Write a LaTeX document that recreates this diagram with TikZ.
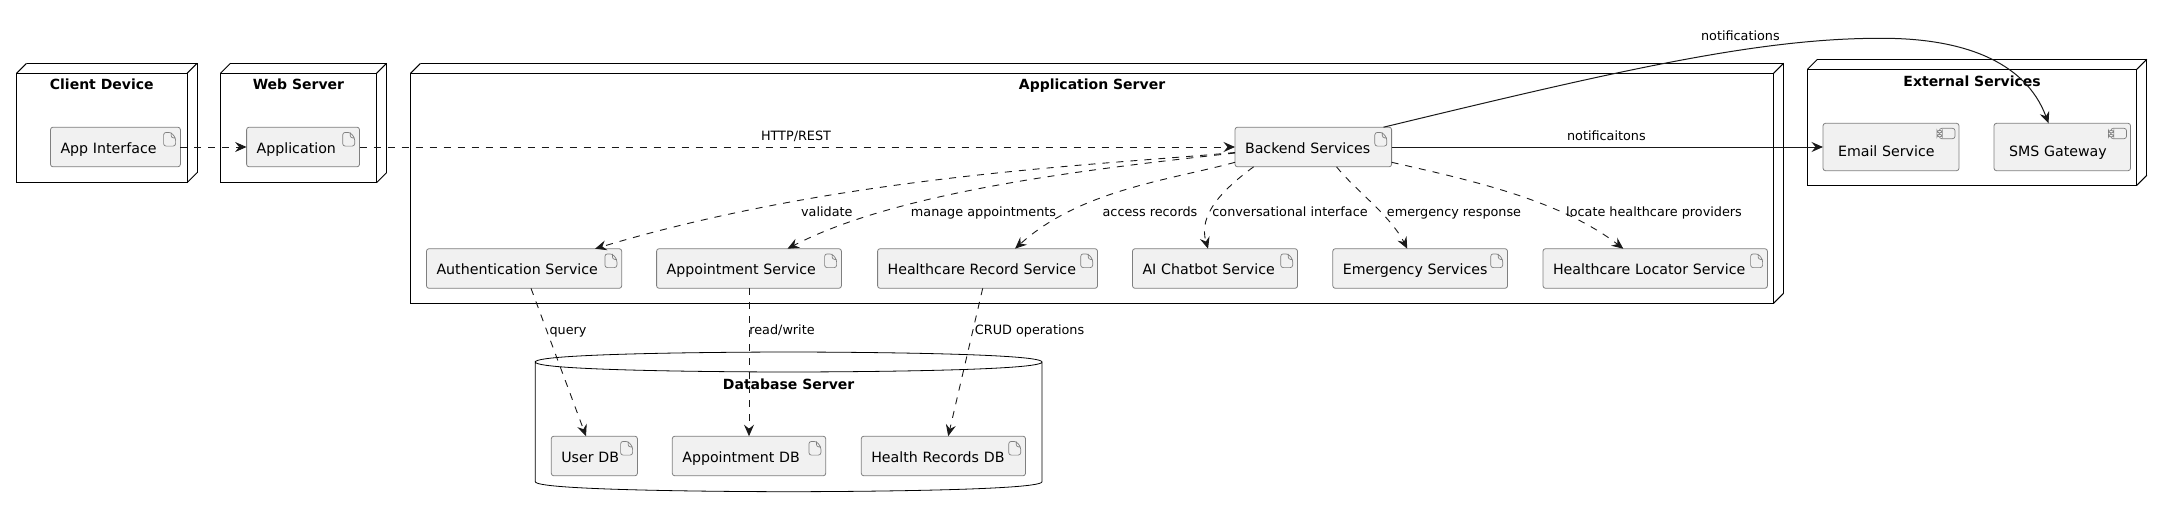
\documentclass[tikz,border=0pt]{standalone}
\usepackage{fontspec}
\setmainfont{DejaVu Sans}
\usetikzlibrary{arrows.meta}
\definecolor{boxfill}{HTML}{F1F1F1}
\definecolor{boxline}{HTML}{7F7F7F}
\tikzset{cluster/.style = {rectangle, draw, line width=1pt, inner sep=0pt, outer sep=0pt, minimum height=109.4pt,
             append after command={
               (\tikzlastnode.north west) edge[-, line width=1pt] ([shift={(10,-10)}]\tikzlastnode.north west)
               ([shift={(10,-10)}]\tikzlastnode.north west) edge[-, line width=1pt] ([shift={(10,-10)}]\tikzlastnode.north east)
               ([shift={(10,-10)}]\tikzlastnode.north east) edge[-, line width=1pt] ([shift={(10,-10)}]\tikzlastnode.south east)
               ([shift={(10,-10)}]\tikzlastnode.south east) edge[-, line width=1pt] (\tikzlastnode.south east)
               (\tikzlastnode.north east) edge[-, line width=1pt] ([shift={(10,-10)}]\tikzlastnode.north east)}},
           dbcluster/.style = {rectangle, inner sep=0pt, outer sep=0pt},
           art/.style = {rectangle, rounded corners=2.5pt, draw=boxline, fill=boxfill, line width=.8pt, inner xsep=10pt, inner ysep=0pt,
             outer sep=0pt, minimum height=39.6pt, align=left, text height=15.8pt, text depth=3pt, font=\fontsize{14.2}{16}\selectfont,
             path picture={
               \draw[boxline, line width=.7pt] ([shift={(-16.8,5.2)}]path picture bounding box.north east) -- ++(7.5,0) -- ++(4.5,5.5) -- ++(0,8.2) -- ++(-12,0) -- cycle
                 ([shift={(-9.3,5.2)}]path picture bounding box.north east) -- ++(0,5.5) -- ++(4.5,0);}},
           comp/.style = {rectangle, rounded corners=2.5pt, draw=boxline, fill=boxfill, line width=.8pt, inner xsep=15pt, inner ysep=0pt,
             outer sep=0pt, minimum height=47.4pt, align=left, text height=22.4pt, text depth=3pt, font=\fontsize{14.2}{16}\selectfont,
             path picture={
               \draw[boxline, line width=.7pt] ([shift={(-19.7,5)}]path picture bounding box.north east) rectangle ++(15.7,10.4);
               \draw[boxline, fill=boxfill, line width=.7pt] ([shift={(-22,7)}]path picture bounding box.north east) rectangle ++(5.3,2.6)
                 ([shift={(-22,11)}]path picture bounding box.north east) rectangle ++(5.3,2.6);}},
           lab/.style = {anchor=base, inner sep=0pt, font=\fontsize{12.8}{15}\selectfont},
           ttl/.style = {anchor=base, inner sep=0pt, font=\fontsize{14}{16}\selectfont\bfseries},
           dep/.style = {-{Stealth[length=11.5pt, width=10pt, inset=4pt]}, dash pattern=on 7pt off 7pt, line width=.9pt, color=black!90},
           lnk/.style = {-{Stealth[length=11.5pt, width=10pt, inset=4pt]}, line width=1pt, color=black!90}}

\begin{document}
\begin{tikzpicture}[x=1pt, y=-1pt]
    \useasboundingbox (0,0) rectangle (2162,507);
    \node[cluster, minimum width=170.5pt] (client) at (101.75,128) {};
    \node[cluster, minimum width=156.1pt] (web) at (298.45,128) {};
    \node[cluster, minimum width=1363.1pt, minimum height=230pt] (appserver) at (1092.05,188.3) {};
    \node[cluster, minimum width=329.4pt, minimum height=116pt] (external) at (1972.1,127.3) {};
    \node[dbcluster, minimum width=506.7pt, minimum height=119.7pt] (dbserver) at (788.65,421.85) {};
    \draw[line width=.8pt] (dbserver.north west) .. controls ([yshift=10pt]dbserver.north west) and ([yshift=10pt]dbserver.north) .. ([yshift=10pt]dbserver.north)
        .. controls ([yshift=10pt]dbserver.north) and ([yshift=10pt]dbserver.north east) .. (dbserver.north east)
        .. controls ([yshift=-10pt]dbserver.north east) and ([yshift=-10pt]dbserver.north) .. ([yshift=-10pt]dbserver.north)
        .. controls ([yshift=-10pt]dbserver.north) and ([yshift=-10pt]dbserver.north west) .. (dbserver.north west)
        -- (dbserver.south west)
        .. controls ([yshift=-10pt]dbserver.south west) and ([yshift=-10pt]dbserver.south) .. ([yshift=-10pt]dbserver.south)
        .. controls ([yshift=-10pt]dbserver.south) and ([yshift=-10pt]dbserver.south east) .. (dbserver.south east)
        -- (dbserver.north east);
    \node[ttl] (clienttitle) at (101.75,89.7) {Client Device};
    \node[ttl] (webtitle) at (298.45,89.7) {Web Server};
    \node[ttl] (appservertitle) at (1092.05,89.7) {Application Server};
    \node[ttl] (externaltitle) at (1972.1,86.7) {External Services};
    \node[ttl] (dbtitle) at (788.65,389.3) {Database Server};
    \node[art, text width=109.9pt] (appif) at (115.45,147) {App Interface};
    \node[art, text width=92.9pt] (application) at (303.05,147) {Application};
    \node[art, text width=136.6pt] (backend) at (1313.3,147) {Backend Services};
    \node[art, text width=175.2pt] (auth) at (524.1,268.5) {Authentication Service};
    \node[art, text width=164.8pt] (appt) at (749,268.5) {Appointment Service};
    \node[art, text width=199.9pt] (record) at (987.55,268.5) {Healthcare Record Service};
    \node[art, text width=145pt] (chatbot) at (1215,268.5) {AI Chatbot Service};
    \node[art, text width=154.7pt] (emergency) at (1420.15,268.5) {Emergency Services};
    \node[art, text width=204.4pt] (locator) at (1655.2,268.5) {Healthcare Locator Service};
    \node[art, text width=66.1pt] (userdb) at (594.35,456) {User DB};
    \node[art, text width=133.4pt] (apptdb) at (749,456) {Appointment DB};
    \node[art, text width=144.2pt] (healthdb) at (943.4,456) {Health Records DB};
    \node[comp, text width=106pt] (email) at (1891,147) {Email Service};
    \node[comp, text width=106.5pt] (sms) at (2062.25,147) {SMS Gateway};
    \draw[dep] (appif.east) -- (application.west);
    \draw[dep] (application.east) -- (backend.west);
    \draw[lnk] (backend.east) -- (email.west);
    \draw[lnk] ([xshift=70.2pt]backend.north) .. controls (1620,70) and (1760,38) .. (1881,38.3) .. controls (1960,38) and (2025,60) .. ([xshift=-13.75pt]sms.north);
    \draw[dep] ([yshift=-5.5pt]backend.west) .. controls (1100,165) and (840,175) .. ([xshift=71pt]auth.north);
    \draw[dep] ([yshift=-6pt]backend.west) .. controls (1100,168) and (900,190) .. ([xshift=38.5pt]appt.north);
    \draw[dep] ([yshift=-15.3pt]backend.west) .. controls (1170,180) and (1080,190) .. ([xshift=27.5pt]record.north);
    \draw[dep] ([xshift=-59.7pt]backend.south) .. controls (1222,190) and (1198,215) .. ([xshift=-7pt]chatbot.north);
    \draw[dep] ([xshift=23.2pt]backend.south) .. controls (1355,190) and (1390,215) .. ([xshift=-12.9pt]emergency.north);
    \draw[dep] ([yshift=-15.3pt]backend.east) .. controls (1470,180) and (1560,200) .. ([xshift=-31.9pt]locator.north);
    \draw[dep] ([xshift=6.9pt]auth.south) -- ([xshift=-8.35pt]userdb.north);
    \draw[dep] (appt.south) -- (apptdb.north);
    \draw[dep] ([xshift=-4.85pt]record.south) -- ([xshift=4.8pt]healthdb.north);
    \node[lab] (httplabel) at (796,140.5) {HTTP/REST};
    \node[lab] (mail) at (1606.4,140.5) {notificaitons};
    \node[lab] (smslabel) at (1740.4,40.5) {notifications};
    \node[lab] (validate) at (826.8,216) {validate};
    \node[lab] (manage) at (983.5,216) {manage appointments};
    \node[lab] (access) at (1150,216) {access records};
    \node[lab] (conversation) at (1290,216) {conversational interface};
    \node[lab] (response) at (1454,216) {emergency response};
    \node[lab] (locate) at (1654,216) {locate healthcare providers};
    \node[lab] (query) at (568,334) {query};
    \node[lab] (readwrite) at (782,334) {read/write};
    \node[lab] (crud) at (1029.6,334) {CRUD operations};
\end{tikzpicture}
\end{document}
